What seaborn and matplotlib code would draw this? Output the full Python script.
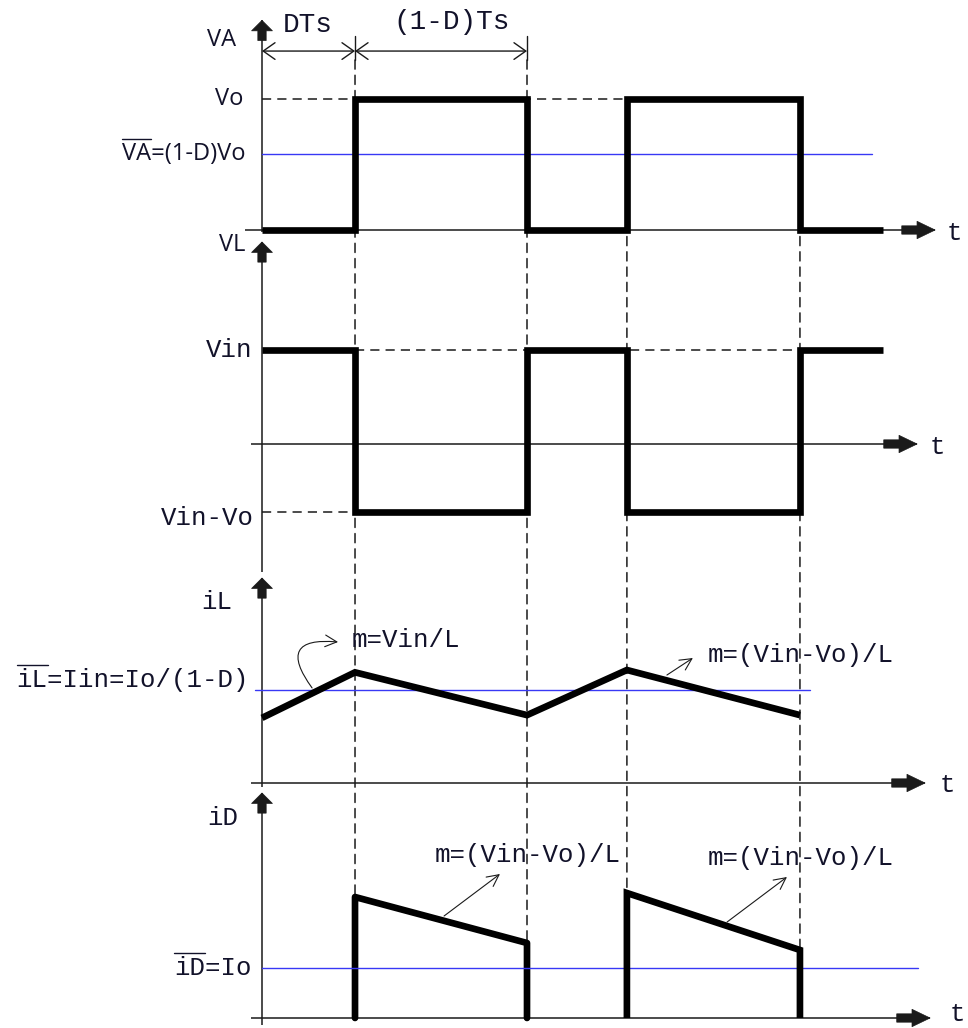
import numpy as np
import pandas as pd
import seaborn as sns
import matplotlib
matplotlib.use("Agg")
import matplotlib.pyplot as plt
from matplotlib.patches import ConnectionPatch
from matplotlib.lines import Line2D
from matplotlib.transforms import IdentityTransform

sns.set_theme(style="white")
plt.rcParams["font.family"] = ["DejaVu Sans"]

# ---------------- data (time in units of Ts) ----------------
t_step = [0.0, 0.351, 0.351, 1.0, 1.0, 1.377, 1.377, 2.030, 2.030, 2.343]
va_v = [0, 0, 1, 1, 0, 0, 1, 1, 0, 0]                      # VA, in units of Vo
vl_v = [1, 1, -0.723, -0.723, 1, 1, -0.723, -0.723, 1, 1]  # VL, in units of Vin
il_t = [0.0, 0.351, 1.0, 1.377, 2.030]
il_v = [0.70, 1.19, 0.73, 1.215, 0.73]                     # iL, in units of mean iL
id_t = [0.351, 0.351, 1.0, 1.0, 1.377, 1.377, 2.030, 2.030]
id_v = [0, 2.42, 1.50, 0, 0, 2.50, 1.36, 0]                # iD, in units of Io
id_pulse = [1, 1, 1, 1, 2, 2, 2, 2]
va_mean, il_mean, id_mean = 0.58, 1.0, 1.0
va_mean_span = [0.0, 2.30]
il_mean_span = [-0.026, 2.068]
id_mean_span = [0.0, 2.475]

TXT = "#12122a"
BLUE = "#3838f5"
MONO = "Liberation Mono"
SANS = "Open Sans"
MSIZE = 18.5
SSIZE = 17

W, H = 968, 1028
PX, X0 = 265.0, 262.0
fig = plt.figure(figsize=(W / 100, H / 100), dpi=100)


def panel(top, bot, zero, unit):
    ax = fig.add_axes([0, 1 - bot / H, 1, (bot - top) / H])
    ax.set_xlim(-X0 / PX, (W - X0) / PX)
    ax.set_ylim(-(bot - zero) / unit, (zero - top) / unit)
    ax.axis("off")
    return ax


axA = panel(0, 240, 230, 131)
axB = panel(240, 576, 444, 94)
axC = panel(576, 790, 783, 93)
axD = panel(790, 1028, 1018, 50)
axes = [axA, axB, axC, axD]
lims = [(ax.get_xlim(), ax.get_ylim()) for ax in axes]

AX_LW = 1.1
WAVE_LW = 4.8
V_ARROW = "simple,head_length=0.75,head_width=1.5,tail_width=0.6"
H_ARROW = "simple,head_length=1.3,head_width=1.25,tail_width=0.6"


def axis_arrows(ax, ytip, ybot, xstart, xtip):
    ax.plot([0, 0], [ybot, ytip], color="k", lw=AX_LW, solid_capstyle="butt")
    ax.annotate("", xy=(0, ytip), xytext=(0, -14.5), textcoords="offset points",
                arrowprops=dict(arrowstyle=V_ARROW, fc="k", ec="k", lw=0.5,
                                shrinkA=0, shrinkB=0, mutation_scale=10))
    ax.plot([xstart, xtip], [0, 0], color="k", lw=AX_LW, solid_capstyle="butt")
    ax.annotate("", xy=(xtip, 0), xytext=(-24, 0), textcoords="offset points",
                arrowprops=dict(arrowstyle=H_ARROW, fc="k", ec="k", lw=0.5,
                                shrinkA=0, shrinkB=0, mutation_scale=10))


axis_arrows(axA, 1.60, -0.015, -0.064, 2.540)
axis_arrows(axB, 2.149, -1.362, -0.042, 2.472)
axis_arrows(axC, 2.204, -0.043, -0.042, 2.502)
axis_arrows(axD, 4.50, -0.14, -0.042, 2.521)

# ---------------- waveforms ----------------
wave_kw = dict(color="black", lw=WAVE_LW, sort=False, estimator=None, legend=False)
sns.lineplot(x=t_step, y=va_v, ax=axA, **wave_kw)
sns.lineplot(x=t_step, y=vl_v, ax=axB, **wave_kw)
sns.lineplot(x=il_t, y=il_v, ax=axC, **wave_kw)
df_id = pd.DataFrame({"t": id_t, "i": id_v, "pulse": id_pulse})
sns.lineplot(data=df_id, x="t", y="i", units="pulse", ax=axD, **wave_kw)
for ax in axes:
    for ln in ax.lines[-1:]:
        ln.set_solid_joinstyle("miter")
        ln.set_solid_capstyle("butt")
        ln.set_zorder(5)

# mean lines
axA.plot(va_mean_span, [va_mean] * 2, color=BLUE, lw=1.0, zorder=3)
axC.plot(il_mean_span, [il_mean] * 2, color=BLUE, lw=1.0, zorder=3)
axD.plot(id_mean_span, [id_mean] * 2, color=BLUE, lw=1.0, zorder=3)

# ---------------- dashed guides ----------------
DASH = dict(color="k", lw=1.1, dashes=(6, 4))
axA.plot([0, t_step[5]], [1, 1], zorder=2, **DASH)
axB.plot([t_step[1], t_step[7]], [vl_v[0], vl_v[0]], zorder=2, **DASH)
axB.plot([0, t_step[1]], [vl_v[2], vl_v[2]], zorder=2, **DASH)

guides = [(t_step[1], 1.298, id_v[1]), (t_step[3], 1.298, id_v[2]),
          (t_step[5], 1.0, id_v[5]), (t_step[7], 1.0, id_v[6])]
for tx, ya, yd in guides:
    cp = ConnectionPatch(xyA=(tx, ya), coordsA=axA.transData,
                         xyB=(tx, yd), coordsB=axD.transData,
                         color="k", lw=1.1, linestyle=(0, (6, 4)), zorder=-1)
    fig.add_artist(cp)

# ---------------- DTs / (1-D)Ts dimension ----------------
ydim = 1.366
for a, b in [(0, t_step[1]), (t_step[1], t_step[3])]:
    axA.annotate("", xy=(b, ydim), xytext=(a, ydim),
                 arrowprops=dict(arrowstyle="<->,head_length=0.85,head_width=0.6",
                                 color="k", lw=1.0, shrinkA=0, shrinkB=0, mutation_scale=10))
for tx in (t_step[1], t_step[3]):
    axA.plot([tx, tx], [1.298, 1.478], color="k", lw=1.0)

# ---------------- texts ----------------
overlines = []


def label(ax, x, y, s, ha="left", font=MONO, size=MSIZE, over=None):
    t = ax.text(x, y, s, ha=ha, va="center", fontfamily=font, fontsize=size, color=TXT, zorder=6)
    if over:
        overlines.append((t, over))
    return t


# panel A
label(axA, -0.098, 1.45, "VA", ha="right", font=SANS, size=SSIZE)
label(axA, -0.072, 1.0, "Vo", ha="right", font=SANS, size=SSIZE)
label(axA, -0.064, va_mean, "VA=(1-D)Vo", ha="right", font=SANS, size=SSIZE, over="VA")
label(axA, 0.079, 1.565, "DTs", size=20)
label(axA, 0.494, 1.588, "(1-D)Ts", size=20)
label(axA, 2.585, -0.02, "t")
# panel B
label(axB, -0.064, 2.117, "VL", ha="right", font=SANS, size=SSIZE)
label(axB, -0.038, 1.0, "Vin", ha="right")
label(axB, -0.03, -0.787, "Vin-Vo", ha="right")
label(axB, 2.521, -0.03, "t")
# panel C
label(axC, -0.113, 1.946, "iL", ha="right")
label(axC, -0.049, 1.108, "iL=Iin=Io/(1-D)", ha="right", over="iL")
label(axC, 0.34, 1.538, "m=Vin/L")
label(axC, 1.683, 1.376, "m=(Vin-Vo)/L")
label(axC, 2.558, -0.02, "t")
# panel D
label(axD, -0.091, 4.0, "iD", ha="right")
label(axD, -0.038, 1.0, "iD=Io", ha="right", over="iD")
label(axD, 0.653, 3.26, "m=(Vin-Vo)/L")
label(axD, 1.683, 3.20, "m=(Vin-Vo)/L")
label(axD, 2.595, 0.08, "t")

# slope pointers
ARR = dict(arrowstyle="->,head_length=0.7,head_width=0.35", color="k", lw=0.8,
           shrinkA=0, shrinkB=0, mutation_scale=12)
axC.annotate("", xy=(0.287, 1.516), xytext=(0.189, 1.022),
             arrowprops=dict(connectionstyle="arc3,rad=-1.1", **ARR))
axC.annotate("", xy=(1.626, 1.344), xytext=(1.528, 1.161), arrowprops=ARR)
axD.annotate("", xy=(0.898, 2.88), xytext=(0.687, 2.04), arrowprops=ARR)
axD.annotate("", xy=(1.981, 2.82), xytext=(1.755, 1.92), arrowprops=ARR)

for ax, (xl, yl) in zip(axes, lims):
    ax.set_xlim(xl)
    ax.set_ylim(yl)

# overlines over the averaged symbols
fig.canvas.draw()
r = fig.canvas.get_renderer()
for t, pre in overlines:
    bb = t.get_window_extent(r)
    w, h, d = r.get_text_width_height_descent(pre, t.get_fontproperties(), ismath=False)
    y = bb.y1 + 3
    fig.add_artist(Line2D([bb.x0, bb.x0 + w], [y, y], transform=IdentityTransform(),
                          color=TXT, lw=1.0))

fig.savefig("out.png", dpi=100)
